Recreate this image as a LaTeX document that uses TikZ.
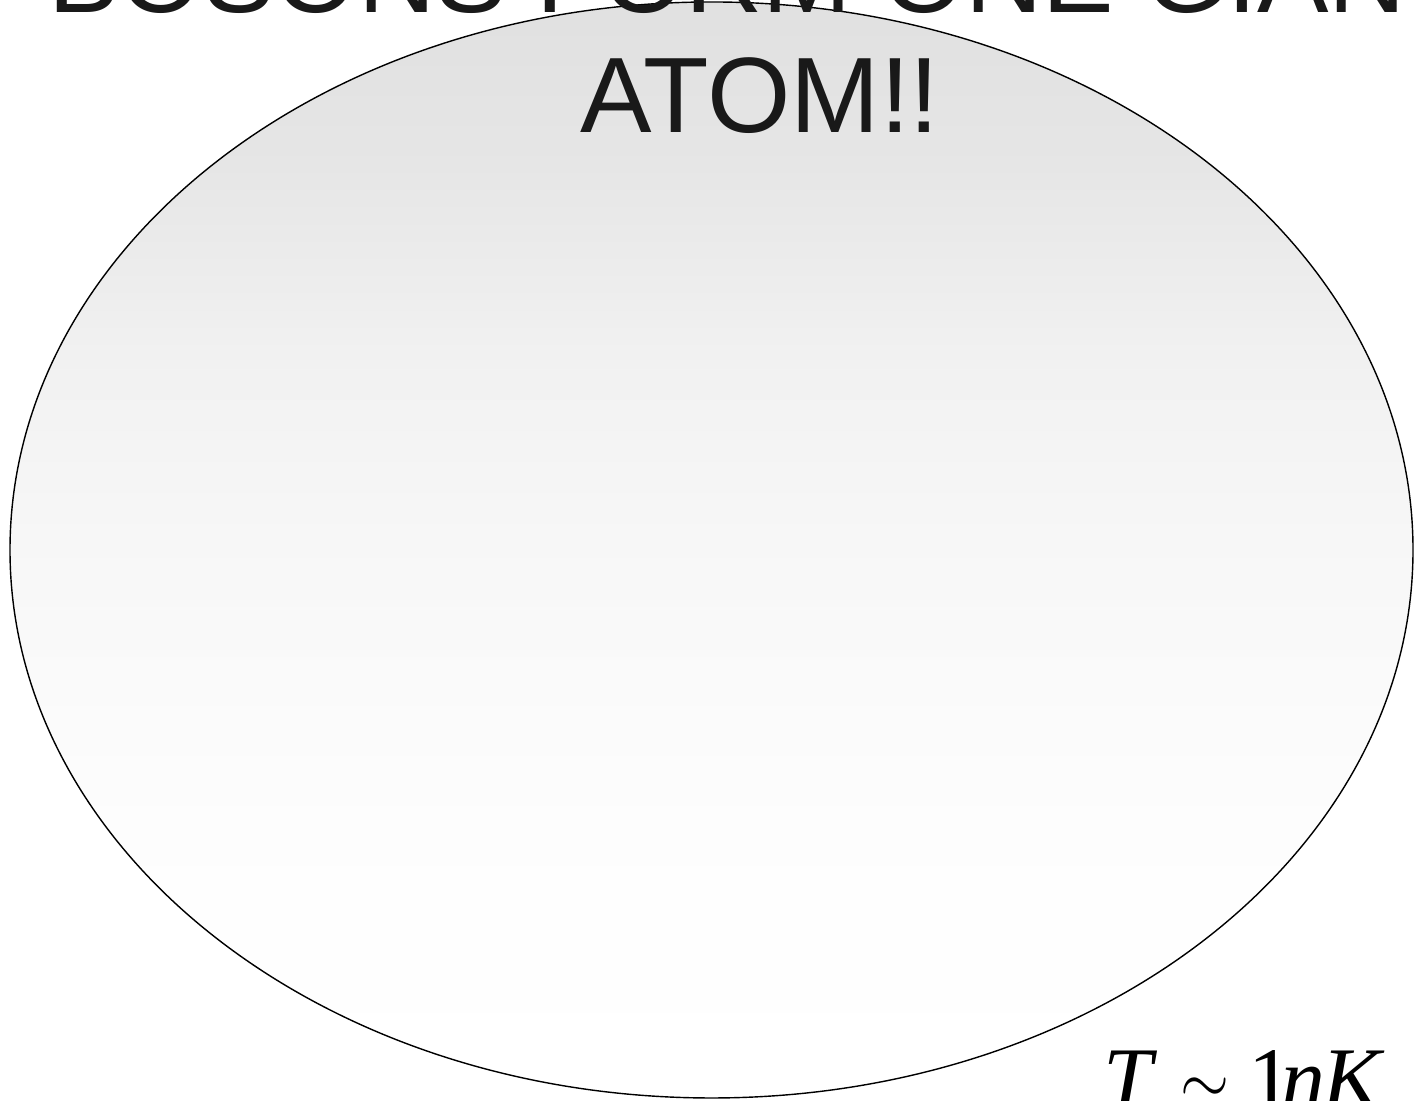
\documentclass[tikz,border=0pt]{standalone}
\usepackage{fontspec}
\setmainfont{Liberation Sans}
\newfontfamily\tnrfont{Liberation Serif}
\usetikzlibrary{shapes,positioning,shapes.geometric}

% grey at the top, fading out to white
\pgfdeclareverticalshading{coldfade}{100bp}{color(0bp)=(white); color(25bp)=(white); color(35bp)=(black!0.5); color(38.5bp)=(black!1); color(50bp)=(black!3); color(59bp)=(black!5.5); color(68bp)=(black!10); color(75bp)=(black!12); color(100bp)=(black!12)}

\begin{document}
\begin{tikzpicture}[
    atom/.style={ellipse, draw=black, thin, shading=coldfade, shading angle=0, minimum width=14.03cm, minimum height=10.96cm, inner sep=0pt},
    headline/.style={align=center, font=\fontsize{30.5}{34.4}\selectfont, text=black!90, inner sep=0pt},
    temp/.style={font=\fontsize{25}{30}\tnrfont, inner sep=0pt}
]

% Page
\useasboundingbox (0,0) rectangle (14.14,11.01);

% Condensate
\node[atom] (cloud) at (7.115,5.51) {};

% Labels
\node[headline, anchor=base] (title) at (7.60,9.68) {BOSONS FORM ONE GIANT\\ATOM!!};
\node[temp, anchor=base west] (temperature) at (11.03,-0.08) {\itshape T\/\hspace{6.5pt}\upshape\raisebox{1.5pt}{\scalebox{0.72}[0.8]{$\sim$}}\hspace{5.5pt}1\hspace{-3.2pt}\itshape n\hspace{-1pt}K};

\end{tikzpicture}
\end{document}
